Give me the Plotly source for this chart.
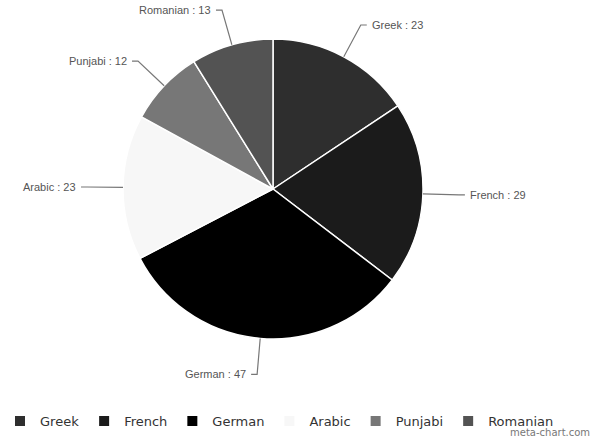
import math
import plotly.graph_objects as go

labels = ["Greek", "French", "German", "Arabic", "Punjabi", "Romanian"]
values = [23, 29, 47, 23, 12, 13]
colors = ["#2e2e2e", "#1b1b1b", "#000000", "#f7f7f7", "#777777", "#535353"]

W, H = 600, 438
cx, cy, r = 273, 189, 150  # pie geometry in pixels

fig = go.Figure(go.Pie(
    labels=labels, values=values, sort=False, direction="clockwise", rotation=0,
    marker=dict(colors=colors, line=dict(color="#ffffff", width=1.5)),
    textinfo="none", hoverinfo="label+value",
    domain=dict(x=[(cx - r) / W, (cx + r) / W], y=[1 - (cy + r) / H, 1 - (cy - r) / H]),
))

def px(x, y):
    return x / W, 1 - y / H

total = sum(values)
cum = 0
shapes, annotations = [], []
for lab, v in zip(labels, values):
    mid = (cum + v / 2) / total * 2 * math.pi
    cum += v
    s, c = math.sin(mid), math.cos(mid)
    x0, y0 = cx + r * s, cy - r * c
    xc, yc = cx + (r + 25) * s, cy - (r + 25) * c
    ex, ey = cx + (r + 36) * s, cy - (r + 36) * c
    side = 1 if s >= 0 else -1
    ex2 = ex + side * 6
    p0, pc, pe, pe2 = px(x0, y0), px(xc, yc), px(ex, ey), px(ex2, ey)
    shapes.append(dict(
        type="path", xref="paper", yref="paper",
        path=f"M {p0[0]},{p0[1]} Q {pc[0]},{pc[1]} {pe[0]},{pe[1]} L {pe2[0]},{pe2[1]}",
        line=dict(color="#777777", width=1.2)))
    annotations.append(dict(
        x=pe2[0] + side * 3 / W, y=pe2[1], xref="paper", yref="paper",
        text=f"{lab} : {v}", showarrow=False,
        xanchor="left" if side > 0 else "right", yanchor="middle",
        font=dict(family="Liberation Sans, Arial", size=11, color="#555555")))

annotations.append(dict(
    x=1 - 8 / W, y=1 - 440 / H, xref="paper", yref="paper", xanchor="right", yanchor="bottom",
    text="meta-chart.com", showarrow=False,
    font=dict(family="DejaVu Sans", size=10, color="#777777")))

fig.update_layout(
    width=W, height=H, margin=dict(l=0, r=0, t=0, b=0),
    paper_bgcolor="#ffffff", plot_bgcolor="#ffffff",
    shapes=shapes, annotations=annotations,
    legend=dict(orientation="h", x=0, y=1 - 421 / H, xanchor="left", yanchor="middle",
                font=dict(family="DejaVu Sans", size=13, color="#333333"),
                itemsizing="constant"),
)

fig.write_html("out.html", config={"displayModeBar": False},
               post_script="document.body.style.margin='0';document.body.style.padding='0';")
